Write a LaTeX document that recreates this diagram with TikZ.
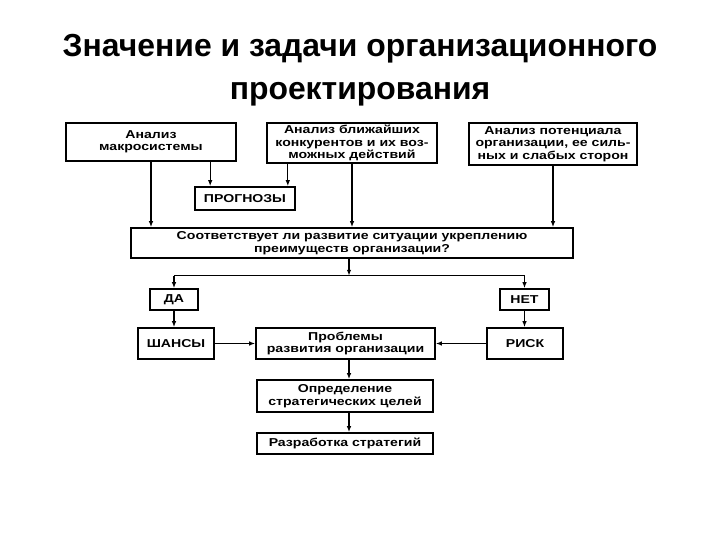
\documentclass[tikz,border=0pt]{standalone}
\usepackage{fontspec}
\setmainfont{Liberation Sans}
\newfontfamily\boxfont[FakeStretch=1.23]{Liberation Sans}
\usetikzlibrary{arrows.meta, positioning}

\tikzset{
    box/.style={draw, line width=1.6bp, inner sep=1bp, align=center,
        font=\boxfont\bfseries\fontsize{11.5}{12.5}\selectfont},
    arr/.style={line width=1.2bp, -{Latex[length=6bp, width=4.5bp]}},
    link/.style={line width=1.2bp}
}

\begin{document}
\begin{tikzpicture}[x=1bp, y=-1bp]
        \useasboundingbox (0,0) rectangle (720,540);

        % Title
        \node[align=center, font=\bfseries\fontsize{32}{43}\selectfont] (title) at (360,70)
            {Значение и задачи организационного\\проектирования};

        % Analysis row
        \node[box, minimum width=170bp, minimum height=38bp] (macro) at (151,142)
            {Анализ\\макросистемы};
        \node[box, minimum width=170bp, minimum height=40bp] (rivals) at (352,143)
            {Анализ ближайших\\конкурентов и их воз-\\можных действий};
        \node[box, minimum width=168bp, minimum height=42bp] (potent) at (553,144)
            {Анализ потенциала\\организации, ее силь-\\ных и слабых сторон};

        % Forecasts
        \node[box, minimum width=100bp, minimum height=23bp] (forecast) at (245,198.5)
            {ПРОГНОЗЫ};

        % Question
        \node[box, minimum width=442bp, minimum height=30bp] (quest) at (352,243)
            {Соответствует ли развитие ситуации укреплению\\преимуществ организации?};

        % Yes / no
        \node[box, minimum width=48bp, minimum height=21bp] (yes) at (174,299.5) {ДА};
        \node[box, minimum width=49bp, minimum height=21bp] (no) at (524.5,299.5) {НЕТ};

        % Chances, problems, risk
        \node[box, minimum width=76bp, minimum height=31bp] (chance) at (176,343.5) {ШАНСЫ};
        \node[box, minimum width=179bp, minimum height=31bp] (probl) at (345.5,343.5)
            {Проблемы\\развития организации};
        \node[box, minimum width=76bp, minimum height=31bp] (risk) at (525,343.5) {РИСК};

        % Goals and strategy
        \node[box, minimum width=176bp, minimum height=32bp] (goals) at (345,396)
            {Определение\\стратегических целей};
        \node[box, minimum width=176bp, minimum height=21bp] (strat) at (345,443.5)
            {Разработка стратегий};

        % Connectors
        \draw[arr] (macro.south) -- (macro.south |- quest.north);
        \draw[arr] (rivals.south) -- (rivals.south |- quest.north);
        \draw[arr] (potent.south) -- (potent.south |- quest.north);
        \draw[arr] ([xshift=16bp]forecast.north west |- macro.south) -- ([xshift=16bp]forecast.north west);
        \draw[arr] ([xshift=-8bp]forecast.north east |- rivals.south) -- ([xshift=-8bp]forecast.north east);

        \coordinate (fork) at ([xshift=-3bp, yshift=-17bp]quest.south);
        \draw[arr] (quest.south -| fork) -- (fork);
        \draw[link] (fork -| yes) -- (fork -| no);
        \draw[arr] (fork -| yes) -- (yes.north);
        \draw[arr] (fork -| no) -- (no.north);

        \draw[arr] (yes.south) -- (yes.south |- chance.north);
        \draw[arr] (no.south) -- (no.south |- risk.north);
        \draw[arr] (chance.east) -- (probl.west);
        \draw[arr] (risk.west) -- (probl.east);
        \draw[arr] (probl.south -| fork) -- (goals.north -| fork);
        \draw[arr] (goals.south -| fork) -- (strat.north -| fork);
    \end{tikzpicture}
\end{document}
